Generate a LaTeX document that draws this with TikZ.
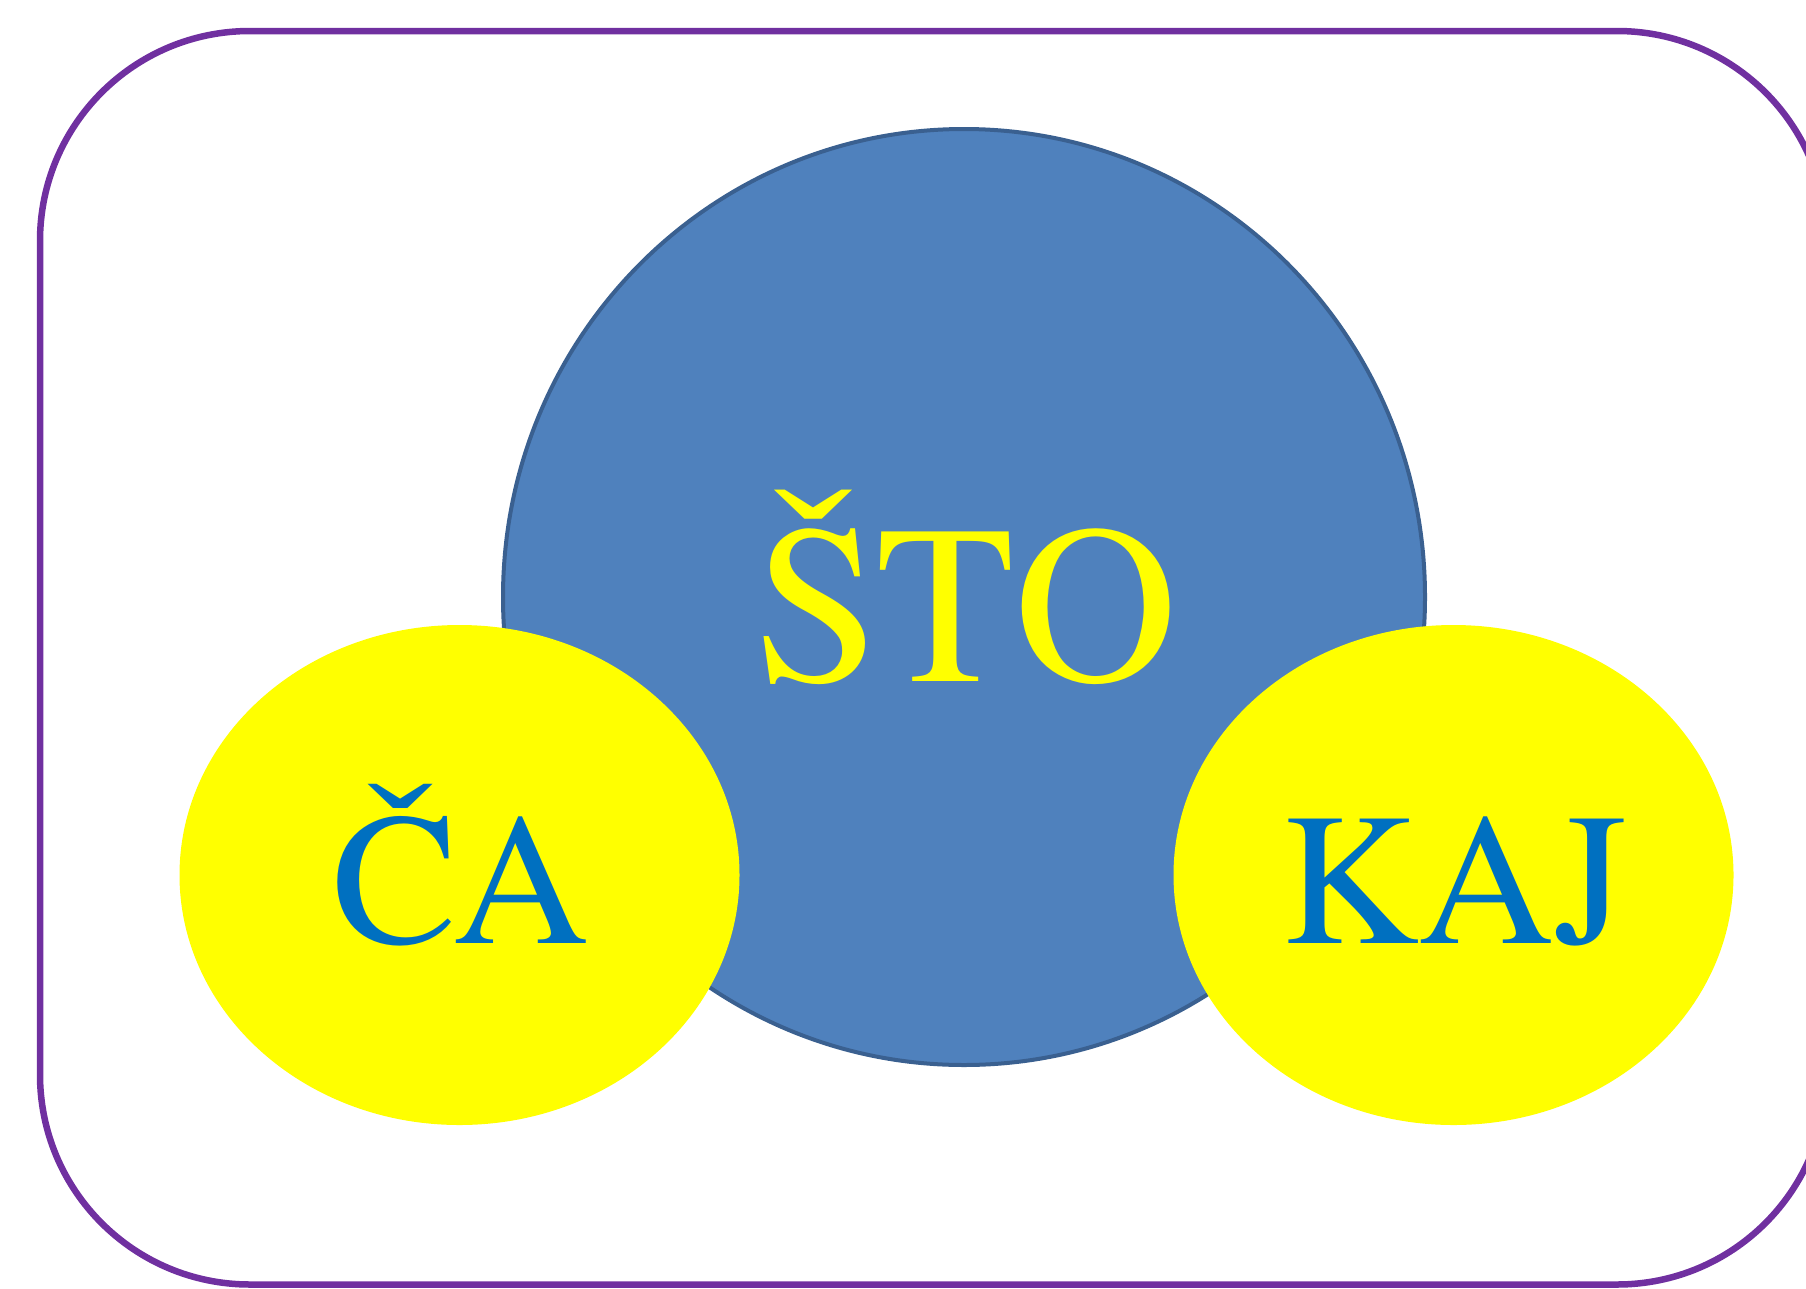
\documentclass[tikz,border=0pt]{standalone}
\usepackage{fontspec}
\setmainfont{texgyretermes-regular.otf}
\usetikzlibrary{shapes.geometric}
\definecolor{framepurple}{HTML}{7030A0}
\definecolor{circblue}{HTML}{4F81BD}
\definecolor{circedge}{HTML}{3A6090}
\definecolor{txtblue}{HTML}{0070C0}
\definecolor{lemon}{HTML}{FFFF00}
\tikzset{
  frame/.style={draw=framepurple, line width=6.5pt, rounded corners=210pt},
  bigdisc/.style={ellipse, draw=circedge, line width=4pt, fill=circblue,
    minimum width=922pt, minimum height=936pt, inner sep=0pt},
  smalldisc/.style={ellipse, fill=lemon, draw=none,
    minimum width=560pt, minimum height=500pt, inner sep=0pt},
  mainword/.style={anchor=base, inner sep=0pt, text=lemon,
    font=\fontsize{226}{240}\selectfont},
  sideword/.style={anchor=base, inner sep=0pt, text=txtblue,
    font=\fontsize{188}{200}\selectfont}
}
\begin{document}
\begin{tikzpicture}[x=1pt, y=-1pt]
  \useasboundingbox (0,0) rectangle (1806,1288);
  \clip (0,0) rectangle (1806,1288);
  % outer rounded frame
  \draw[frame] (40,31) rectangle (1827,1284.5);
  % central disc and the two side discs
  \node[bigdisc] (sto) at (964,597) {};
  \node[smalldisc] (ca) at (459.5,875) {};
  \node[smalldisc] (kaj) at (1453.5,875) {};
  % words
  \node[mainword] (stotext) at (966,681) {ŠTO};
  \node[sideword] (catext) at (461,943) {ČA};
  \node[sideword] (kajtext) at (1455,943) {KAJ};
\end{tikzpicture}
\end{document}
